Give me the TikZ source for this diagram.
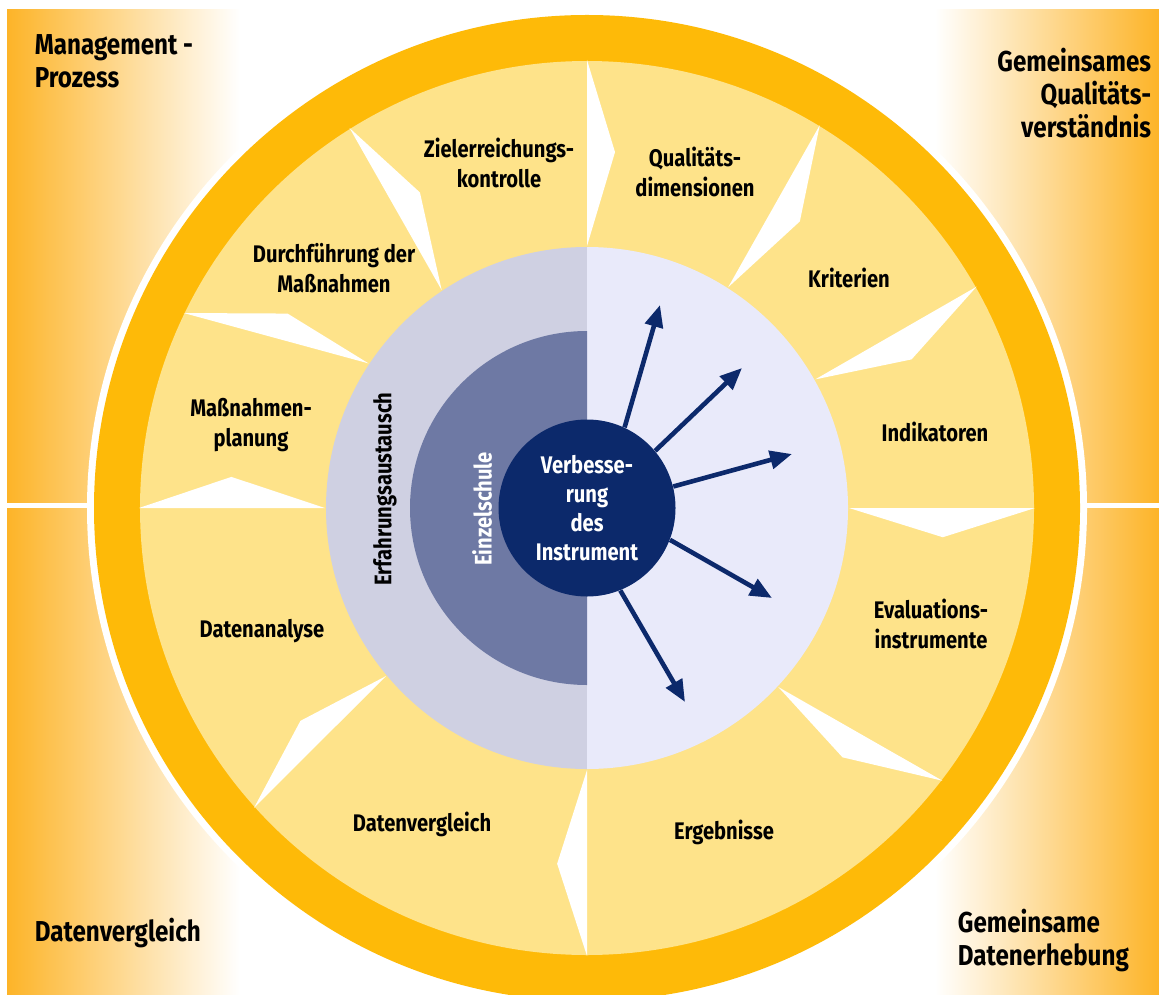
\documentclass[tikz,border=0pt]{standalone}
\usepackage{fontspec}
\setmainfont{Fira Sans}[FakeStretch=0.84]
\usepackage{tikz}
\usetikzlibrary{arrows.meta}
\definecolor{bgorange}{RGB}{253,180,40}
\definecolor{ringorange}{RGB}{254,186,8}
\definecolor{sunyellow}{RGB}{254,227,138}
\definecolor{greyblue}{RGB}{207,208,226}
\definecolor{paleblue}{RGB}{233,234,250}
\definecolor{midblue}{RGB}{110,121,164}
\definecolor{navy}{RGB}{12,41,107}
\tikzset{
  lbl/.style={font=\bfseries\fontsize{12}{15}\selectfont, align=center, inner sep=0.75pt},
  corner/.style={font=\bfseries\fontsize{14.4}{16.5}\selectfont, inner sep=0.75pt},
  spike/.style={fill=white},
  outarrow/.style={draw=navy, line width=2.3pt, -{Triangle[length=11pt,width=9pt]}},
}

\begin{document}
\begin{tikzpicture}[x=0.5pt,y=0.5pt,yscale=-1,xscale=1]
	\useasboundingbox (0,0) rectangle (1159,994);
	\clip (0,0) rectangle (1159,994);
	\fill[white] (0,0) rectangle (1159,994);

	%Background shading
	\shade[left color=bgorange,right color=white] (7,10) rectangle (240,994);
	\shade[left color=white,right color=bgorange] (935,10) rectangle (1159,994);
	\draw[white,line width=2.5pt] (7,505) -- (1159,505);

	%Rings, spikes and halves
	\begin{scope}[shift={(587,508)},yscale=-1]
		\fill[white] (0,0) circle[radius=500];
		\fill[ringorange] (0,0) circle[radius=493];
		\fill[sunyellow] (0,0) circle[radius=447];
		\foreach \o/\s/\i in {90/85.5/90, 58.7/53.4/57.4, 29.6/24.6/29.4, 0/-4.7/0,
			-37.5/-44.3/-43.1, -90/-94.8/-90, 222/216.6/219.9, 180/175/180,
			154.2/147/146.5, 122/117.9/123.7}
			\fill[spike] (\o:448) -- (\s:357) -- (\i:262) -- cycle;
		\fill[greyblue] (90:261) arc (90:270:261) -- cycle;
		\fill[paleblue] (-90:261) arc (-90:90:261) -- cycle;
		\fill[midblue] (90:177) arc (90:270:177) -- cycle;
	\end{scope}

	% Centre Node
	\draw (587,508) node (verb) [circle, fill=navy, minimum size=88.5pt, inner sep=0pt, text=white, lbl, font=\bfseries\fontsize{12}{14.5}\selectfont] {Verbesse-\\rung\\des\\Instrument};

	%Arrows
	\coordinate (a1) at (660,305);
	\coordinate (a2) at (742,368);
	\coordinate (a3) at (792,454);
	\coordinate (a4) at (772,598);
	\coordinate (a5) at (685,702);
	\draw[outarrow] (verb.65.8) -- (a1);
	\draw[outarrow] (verb.40.5) -- (a2);
	\draw[outarrow] (verb.14.3) -- (a3);
	\draw[outarrow] (verb.-21.7) -- (a4);
	\draw[outarrow] (verb.-68.3) -- (a5);

	% Text Node
	\draw (385,489) node (erfahr) [lbl, rotate=90] {Erfahrungsaustausch};
	% Text Node
	\draw (482,509) node (einzel) [lbl, rotate=90, text=white] {Einzelschule};
	% Text Node
	\draw (499,163) node (ziel) [lbl] {Zielerreichungs-\\kontrolle};
	% Text Node
	\draw (695,172) node (qual) [lbl] {Qualitäts-\\dimensionen};
	% Text Node
	\draw (849,278) node (krit) [lbl] {Kriterien};
	% Text Node
	\draw (935,432) node (indik) [lbl] {Indikatoren};
	% Text Node
	\draw (931,624) node (evalu) [lbl] {Evaluations-\\instrumente};
	% Text Node
	\draw (724,832) node (ergeb) [lbl] {Ergebnisse};
	% Text Node
	\draw (422,824) node (dvgl) [lbl] {Datenvergleich};
	% Text Node
	\draw (262,631) node (danal) [lbl] {Datenanalyse};
	% Text Node
	\draw (251,425) node (mplan) [lbl] {Maßnahmen-\\planung};
	% Text Node
	\draw (334,268) node (durch) [lbl] {Durchführung der\\Maßnahmen};

	% Corner Text
	\draw (33,61) node (mgmt) [corner, anchor=west, align=left] {Management -\\Prozess};
	% Corner Text
	\draw (1153,93) node (gqual) [corner, anchor=east, align=right] {Gemeinsames\\Qualitäts-\\verständnis};
	% Corner Text
	\draw (33,933) node (dvglc) [corner, anchor=west] {Datenvergleich};
	% Corner Text
	\draw (956,941) node (gdaten) [corner, anchor=west, align=left] {Gemeinsame\\Datenerhebung};
\end{tikzpicture}
\end{document}
